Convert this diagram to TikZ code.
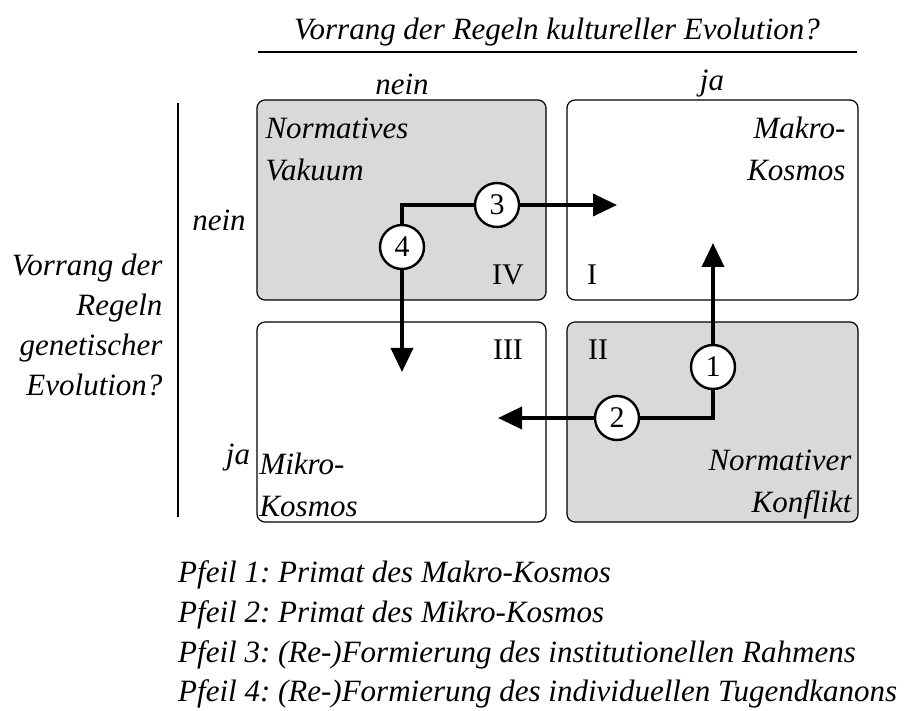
\documentclass[tikz,border=0pt]{standalone}
\usepackage{fontspec}
\setmainfont{Liberation Serif}
\usetikzlibrary{arrows.meta,positioning}

\begin{document}
\frenchspacing
\begin{tikzpicture}[x=1pt,y=-1pt,
  font=\fontsize{31}{42}\selectfont\itshape,
  feld/.style={draw,rounded corners=8pt,line width=1.2pt},
  grau/.style={feld,fill=black!15},
  kreis/.style={circle,draw,fill=white,line width=2.4pt,minimum size=44pt,inner sep=0pt,font=\fontsize{30}{34}\selectfont\upshape},
  pfeil/.style={line width=3.6pt,-{Triangle[length=24pt,width=22pt]}},
  roemisch/.style={font=\fontsize{30}{34}\selectfont\upshape}]
  \useasboundingbox (0,0) rectangle (906,711);
% Kopfzeile
  \node (kopf) at (557,32) {Vorrang der Regeln kultureller Evolution?};
  \draw[line width=1.2pt] (258,52) -- (857,52);
  \node (neinO) at (402,84) {nein};
  \node (jaO) at (712,84) {ja};
% linke Achse
  \draw[line width=1.2pt] (178,103) -- (178,517);
  \node (neinL) at (219,220) {nein};
  \node (jaL) at (238,458) {ja};
  \node[align=right,anchor=east,font=\fontsize{31}{40}\selectfont\itshape] (achse) at (166,325)
    {Vorrang der\\Regeln\\genetischer\\Evolution?};
% Felder
  \draw[grau] (257,100) rectangle (546,300);
  \draw[feld] (567,100) rectangle (858,300);
  \draw[feld] (257,322) rectangle (546,522);
  \draw[grau] (567,322) rectangle (858,522);
  \node[align=left,anchor=west] (vakuum) at (262,149) {Normatives\\Vakuum};
  \node[align=right,anchor=east] (makro) at (849,149) {Makro-\\Kosmos};
  \node[align=left,anchor=west] (mikro) at (256,485) {Mikro-\\Kosmos};
  \node[align=right,anchor=east] (konflikt) at (855,485) {Normativer\\Konflikt};
  \node[roemisch] (IV) at (508,275) {IV};
  \node[roemisch] (I) at (592,275) {I};
  \node[roemisch] (III) at (508,350) {III};
  \node[roemisch] (II) at (598,350) {II};
% Pfeile
  \coordinate (spitze3) at (617,205);
  \coordinate (spitze4) at (402,372);
  \coordinate (spitze1) at (713,243);
  \coordinate (spitze2) at (498,418);
  \node[kreis] (k3) at (497,205) {3};
  \node[kreis] (k4) at (402,247) {4};
  \node[kreis] (k1) at (713,367) {1};
  \node[kreis] (k2) at (617,418) {2};
  \draw[line width=3.6pt] (k4.north) |- (k3.west);
  \draw[pfeil] (k3) -- (spitze3);
  \draw[pfeil] (k4) -- (spitze4);
  \draw[line width=3.6pt] (k2.east) -| (k1.south);
  \draw[pfeil] (k1) -- (spitze1);
  \draw[pfeil] (k2) -- (spitze2);
% Legende
  \node[anchor=west,inner sep=0pt] (p1) at (178,575) {Pfeil 1: Primat des Makro-Kosmos};
  \node[anchor=west,inner sep=0pt] (p2) at (178,615) {Pfeil 2: Primat des Mikro-Kosmos};
  \node[anchor=west,inner sep=0pt] (p3) at (178,655) {Pfeil 3: (Re-)Formierung des institutionellen Rahmens};
  \node[anchor=west,inner sep=0pt] (p4) at (178,694) {Pfeil 4: (Re-)Formierung des individuellen Tugendkanons};
\end{tikzpicture}
\end{document}
